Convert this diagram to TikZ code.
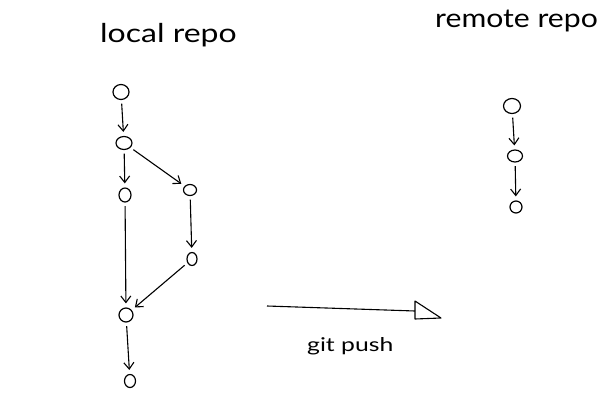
\documentclass[tikz,border=0pt]{standalone}
\usepackage{fontspec}
\setmainfont{Lato}
\usetikzlibrary{arrows.meta,shapes.geometric}
\begin{document}
\begin{tikzpicture}[x=1pt,y=-1pt,
  commit/.style={draw,ellipse,inner sep=0pt,line width=1.2pt},
  arr/.style={line width=1.1pt,-{Straight Barb[length=6.5pt,width=10pt,line width=1.1pt]},
    shorten <=3.5pt,shorten >=4pt},
  title/.style={anchor=base west,inner sep=0pt,font=\fontsize{26}{30}\selectfont},
  label/.style={anchor=base west,inner sep=0pt,font=\fontsize{19}{22}\selectfont}]
\useasboundingbox (0,0) rectangle (610,420);
\fill[white] (0,0) rectangle (610,420);

% headings
\node[title] (tl) at (100,43) {\scalebox{1.23}[1]{local repo}};
\node[title] (tr) at (435,28) {\scalebox{1.16}[1]{remote repo}};

% local history
\node[commit,minimum width=16pt,minimum height=15pt] (A) at (121,92) {};
\node[commit,minimum width=16pt,minimum height=13pt] (B) at (124,143) {};
\node[commit,minimum width=12pt,minimum height=14pt] (C) at (125,195) {};
\node[commit,minimum width=13pt,minimum height=11pt] (D) at (190,190) {};
\node[commit,minimum width=10pt,minimum height=13pt] (E) at (192,259) {};
\node[commit,minimum width=14pt,minimum height=14pt] (F) at (126,315) {};
\node[commit,minimum width=11pt,minimum height=13pt] (G) at (130,381) {};

\draw[arr] (A) -- (B);
\draw[arr] (B) -- (C);
\draw[arr] (B) -- (D);
\draw[arr] (C) -- (F);
\draw[arr] (D) -- (E);
\draw[arr] (E) -- (F);
\draw[arr] (F) -- (G);

% remote history
\node[commit,minimum width=17pt,minimum height=15pt] (R1) at (512,106) {};
\node[commit,minimum width=15pt,minimum height=12pt] (R2) at (515,156) {};
\node[commit,minimum width=12pt,minimum height=12pt] (R3) at (516,207) {};
\draw[arr] (R1) -- (R2);
\draw[arr] (R2) -- (R3);

% push arrow with open triangular head
\coordinate (P1) at (267,306);
\coordinate (P2) at (415,311);
\coordinate (T1) at (415,301);
\coordinate (T2) at (441,318);
\coordinate (T3) at (415,319);
\draw[line width=1.1pt] (P1) -- (P2);
\draw[line width=1.1pt,line join=round] (T1) -- (T2) -- (T3) -- cycle;
\node[label] (push) at (307,351) {\scalebox{1.3}[1]{git push}};
\end{tikzpicture}
\end{document}
